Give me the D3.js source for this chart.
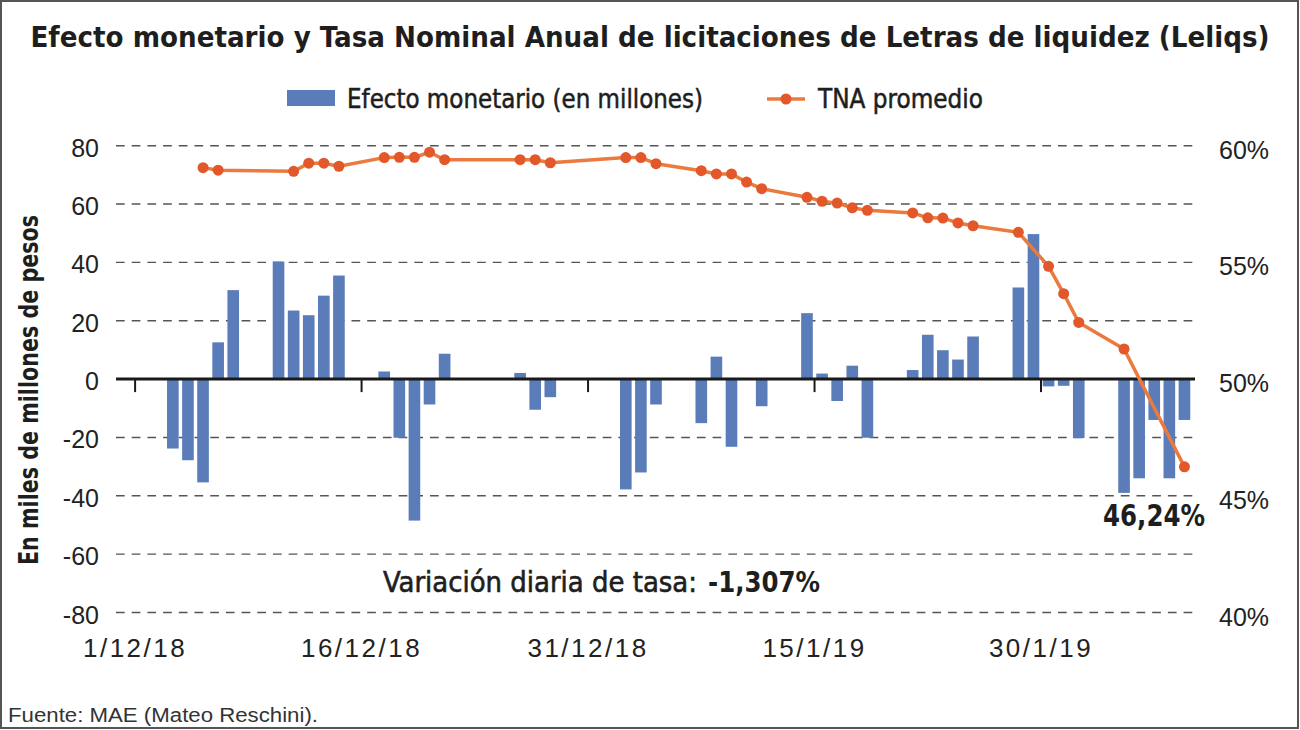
<!DOCTYPE html>
<html><head><meta charset="utf-8">
<script src="https://cdn.jsdelivr.net/npm/d3@7"></script>
<style>
html,body{margin:0;padding:0;background:#fff;}
svg{display:block;}
</style></head>
<body>
<svg id="chart" width="1300" height="730"></svg>
<script>
// ---------- DATA ----------
const barDates = ["2018-12-03","2018-12-04","2018-12-05","2018-12-06","2018-12-07",
  "2018-12-10","2018-12-11","2018-12-12","2018-12-13","2018-12-14",
  "2018-12-17","2018-12-18","2018-12-19","2018-12-20","2018-12-21",
  "2018-12-26","2018-12-27","2018-12-28",
  "2019-01-02","2019-01-03","2019-01-04",
  "2019-01-07","2019-01-08","2019-01-09","2019-01-11",
  "2019-01-14","2019-01-15","2019-01-16","2019-01-17","2019-01-18",
  "2019-01-21","2019-01-22","2019-01-23","2019-01-24","2019-01-25",
  "2019-01-28","2019-01-29","2019-01-30","2019-01-31","2019-02-01",
  "2019-02-04","2019-02-05","2019-02-06","2019-02-07","2019-02-08"];
const barValues = [-23.8,-27.8,-35.4,12.6,30.5,
  40.3,23.5,21.9,28.6,35.5,
  2.6,-20.1,-48.5,-8.7,8.7,
  2.1,-10.5,-6.2,
  -37.8,-32.0,-8.7,
  -15.1,7.7,-23.2,-9.3,
  22.6,1.9,-7.5,4.6,-20.1,
  3.1,15.2,9.9,6.7,14.6,
  31.4,49.7,-2.5,-2.3,-20.2,
  -39.0,-34.0,-14.0,-34.0,-14.0];

const lineDates = ["2018-12-05","2018-12-06",
  "2018-12-11","2018-12-12","2018-12-13","2018-12-14",
  "2018-12-17","2018-12-18","2018-12-19","2018-12-20","2018-12-21",
  "2018-12-26","2018-12-27","2018-12-28",
  "2019-01-02","2019-01-03","2019-01-04",
  "2019-01-07","2019-01-08","2019-01-09","2019-01-10","2019-01-11",
  "2019-01-14","2019-01-15","2019-01-16","2019-01-17","2019-01-18",
  "2019-01-21","2019-01-22","2019-01-23","2019-01-24","2019-01-25",
  "2019-01-28","2019-01-30","2019-01-31","2019-02-01",
  "2019-02-04","2019-02-08"];
const lineValues = [59.06,58.95,
  58.90,59.25,59.25,59.12,
  59.49,59.50,59.50,59.72,59.40,
  59.40,59.40,59.27,
  59.49,59.49,59.23,
  58.93,58.79,58.79,58.44,58.16,
  57.79,57.62,57.54,57.34,57.23,
  57.12,56.91,56.90,56.69,56.57,
  56.29,54.83,53.66,52.43,
  51.29,46.24];

const leftTicks = [-80,-60,-40,-20,0,20,40,60,80];
const rightTicks = [40,45,50,55,60];
const xTickDates = ["2018-12-01","2018-12-16","2018-12-31","2019-01-15","2019-01-30"];
const xTickLabels = ["1/12/18","16/12/18","31/12/18","15/1/19","30/1/19"];
const xDomain = ["2018-11-30","2019-02-09"];

const titleText = "Efecto monetario y Tasa Nominal Anual de licitaciones de Letras de liquidez (Leliqs)";
const legendLabels = ["Efecto monetario (en millones)","TNA promedio"];
const yTitle = "En miles de millones de pesos";
const noteLabel = "Variación diaria de tasa:";
const noteValue = "-1,307%";
const lastLabel = "46,24%";
const source = "Fuente: MAE (Mateo Reschini).";

// ---------- STYLE ----------
const BLUE = "#5a7cb9", ORANGE = "#ea7a3d", MARK = "#e2582a", INK = "#1e1e1e";
const COND = "'Liberation Sans Narrow','Arial Narrow','DejaVu Sans Condensed',sans-serif";
const REG = "'Liberation Sans',Arial,Helvetica,sans-serif";

const parse = d3.timeParse("%Y-%m-%d");
const svg = d3.select("#chart");

svg.append("rect").attr("x",1).attr("y",1).attr("width",1297).attr("height",727)
  .attr("fill","#fff").attr("stroke","#555").attr("stroke-width",2);

const x = d3.scaleTime().domain(xDomain.map(parse)).range([120, 1192]);
const yL = d3.scaleLinear().domain([-80,80]).range([612.5,145.7]);
const yR = d3.scaleLinear().domain([40,60]).range([612.5,145.7]);
const mid = d => d3.timeHour.offset(parse(d), 12);
const dayW = x(parse("2018-12-02")) - x(parse("2018-12-01"));
const bw = dayW * 0.77;
const gx0 = x.range()[0] - 4, gx1 = x.range()[1] + 3;

// title: font size fitted so the natural width matches the reference width
const title = svg.append("text").attr("x",650).attr("y",47).attr("text-anchor","middle").text(titleText)
  .attr("font-family",COND).attr("font-weight","bold").attr("font-size",31).attr("fill",INK);
const tw = title.node().getComputedTextLength();
title.attr("font-size", Math.min(31, 31 * 1240 / tw));

// legend
svg.append("rect").attr("x",287).attr("y",90).attr("width",48).attr("height",16).attr("fill",BLUE);
svg.append("text").attr("x",347).attr("y",108).text(legendLabels[0])
  .attr("font-family",COND).attr("font-size",26).attr("fill",INK)
  .attr("stroke",INK).attr("stroke-width",0.5)
  .attr("textLength",356).attr("lengthAdjust","spacingAndGlyphs");
svg.append("line").attr("x1",767).attr("x2",805).attr("y1",99).attr("y2",99)
  .attr("stroke",ORANGE).attr("stroke-width",3.5);
svg.append("circle").attr("cx",786).attr("cy",99).attr("r",5.5).attr("fill",MARK);
svg.append("text").attr("x",818).attr("y",108).text(legendLabels[1])
  .attr("font-family",COND).attr("font-size",26).attr("fill",INK)
  .attr("stroke",INK).attr("stroke-width",0.5)
  .attr("textLength",165).attr("lengthAdjust","spacingAndGlyphs");

// gridlines
svg.append("g").selectAll("line").data(leftTicks.filter(v => v !== 0)).join("line")
  .attr("x1",gx0).attr("x2",gx1).attr("y1",d=>yL(d)).attr("y2",d=>yL(d))
  .attr("stroke","#555").attr("stroke-width",1.4).attr("stroke-dasharray","8.7,7");

// left labels
svg.append("g").selectAll("text").data(leftTicks).join("text")
  .attr("x",99).attr("y",d=>yL(d)+11).attr("text-anchor","end").text(d=>d)
  .attr("font-family",REG).attr("font-size",25).attr("fill","#222");
// right labels
svg.append("g").selectAll("text").data(rightTicks).join("text")
  .attr("x",1219).attr("y",d=>yR(d)+13).text(d=>d+"%")
  .attr("font-family",REG).attr("font-size",25).attr("fill","#222");

// y title
svg.append("text").attr("transform","translate(38,390) rotate(-90)")
  .attr("text-anchor","middle").text(yTitle)
  .attr("font-family",COND).attr("font-weight","bold").attr("font-size",27).attr("fill",INK)
  .attr("textLength",350).attr("lengthAdjust","spacingAndGlyphs");

// bars
svg.append("g").selectAll("rect").data(barDates.map((d,i)=>({d, v:barValues[i]}))).join("rect")
  .attr("x",o=>x(mid(o.d))-bw/2).attr("width",bw)
  .attr("y",o=>yL(Math.max(0,o.v))).attr("height",o=>Math.abs(yL(o.v)-yL(0)))
  .attr("fill",BLUE);

// zero axis
svg.append("line").attr("x1",gx0).attr("x2",gx1).attr("y1",yL(0)).attr("y2",yL(0))
  .attr("stroke","#1a1a1a").attr("stroke-width",3);
svg.append("g").selectAll("line").data(xTickDates).join("line")
  .attr("x1",d=>x(parse(d))).attr("x2",d=>x(parse(d)))
  .attr("y1",yL(0)).attr("y2",yL(0)+13).attr("stroke","#1a1a1a").attr("stroke-width",2);
svg.append("g").selectAll("text").data(xTickDates).join("text")
  .attr("x",d=>x(parse(d))).attr("y",657).attr("text-anchor","middle")
  .text((d,i)=>xTickLabels[i])
  .attr("font-family",REG).attr("font-size",26).attr("fill","#222").attr("letter-spacing",2.5);

// line
const pts = lineDates.map((d,i)=>({d, v:lineValues[i]}));
svg.append("path").datum(pts)
  .attr("d", d3.line().x(o=>x(mid(o.d))).y(o=>yR(o.v)))
  .attr("fill","none").attr("stroke",ORANGE).attr("stroke-width",3.5).attr("stroke-linejoin","round");
svg.append("g").selectAll("circle").data(pts).join("circle")
  .attr("cx",o=>x(mid(o.d))).attr("cy",o=>yR(o.v)).attr("r",5.5).attr("fill",MARK);

// annotations
svg.append("text").attr("x",383).attr("y",592).text(noteLabel)
  .attr("font-family",COND).attr("font-size",29).attr("fill",INK)
  .attr("stroke",INK).attr("stroke-width",0.6)
  .attr("textLength",314).attr("lengthAdjust","spacingAndGlyphs");
svg.append("text").attr("x",708).attr("y",592).text(noteValue)
  .attr("font-family",COND).attr("font-weight","bold").attr("font-size",29).attr("fill",INK)
  .attr("textLength",112).attr("lengthAdjust","spacingAndGlyphs");
svg.append("text").attr("x",1103).attr("y",526).text(lastLabel)
  .attr("font-family",COND).attr("font-weight","bold").attr("font-size",30).attr("fill",INK)
  .attr("textLength",102).attr("lengthAdjust","spacingAndGlyphs");

// source
svg.append("text").attr("x",8).attr("y",722).text(source)
  .attr("font-family",REG).attr("font-size",20).attr("fill","#333")
  .attr("textLength",310).attr("lengthAdjust","spacingAndGlyphs");
</script>
</body></html>
